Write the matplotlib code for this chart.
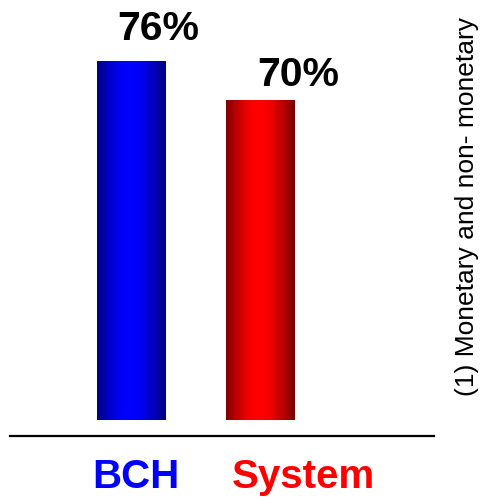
import numpy as np
import matplotlib
matplotlib.use("Agg")
import matplotlib.pyplot as plt
from matplotlib.lines import Line2D
import matplotlib.transforms as mtransforms

plt.rcParams['font.family'] = ['Liberation Sans', 'DejaVu Sans']

# Data
categories = ["BCH", "System"]
values = [76, 70]
value_labels = ["76%", "70%"]
side_note = "(1) Monetary and non- monetary"

bar_colors = [(0.0, 0.0, 1.0), (1.0, 0.0, 0.0)]
label_dx = [0.21, 0.29]          # horizontal shift of value labels (data units)
label_dy = [15, 10]              # vertical offset of value labels (points)
cat_dx = [0.035, 0.33]           # horizontal shift of category labels

fig = plt.figure(figsize=(4.81, 4.97), dpi=100)
fig.patch.set_facecolor("white")

W, H = 481, 497
unit = 129.0
x0 = 131.5
ax = fig.add_axes([0, (H - 420) / H, 1, 420 / H])
ax.set_xlim(-x0 / unit, (W - x0) / unit)
y_base = 20
ax.set_ylim(y_base, y_base + 420 / 6.41)
ax.axis("off")

xs = np.arange(len(categories))
bar_w = 69 / unit
bars = ax.bar(xs, np.array(values) - y_base, bottom=y_base, width=bar_w,
              color="none", edgecolor="none")

# Cylinder-like horizontal shading for each bar
t = np.linspace(0, 1, 256)
shade = np.interp(t, [0.0, 0.15, 0.35, 0.5, 0.65, 0.85, 1.0],
                  [0.50, 0.74, 0.98, 1.0, 0.94, 0.70, 0.46])
for bar, col in zip(bars, bar_colors):
    rgb = np.array(col)[None, None, :] * shade[None, :, None]
    x, y = bar.get_x(), bar.get_y()
    im = ax.imshow(rgb, extent=(x, x + bar.get_width(), y, y + bar.get_height()),
                   aspect="auto", interpolation="bilinear", zorder=2)
    im.set_clip_path(bar)

for i, (v, lab) in enumerate(zip(values, value_labels)):
    ax.annotate(lab, xy=(xs[i] + label_dx[i], v), xytext=(0, label_dy[i]),
                textcoords="offset points", ha="center", va="baseline",
                fontsize=29.5, fontweight="bold", color="black")

# Category labels below the base line
trans = mtransforms.blended_transform_factory(ax.transData, fig.transFigure)
for i, (cat, col) in enumerate(zip(categories, bar_colors)):
    ax.text(xs[i] + cat_dx[i], 9 / H, cat, transform=trans, ha="center",
            va="baseline", fontsize=29, fontweight="bold", color=col)

# Base line
fig.add_artist(Line2D([9.5 / W, 434.5 / W], [(H - 436) / H] * 2,
                      transform=fig.transFigure, color="black", lw=1.6))

# Rotated note on the right
fig.text(467 / W, (H - 206) / H, side_note, rotation=90, ha="center",
         va="center", fontsize=19, color="black")

fig.savefig("out.png", dpi=100, facecolor="white")
